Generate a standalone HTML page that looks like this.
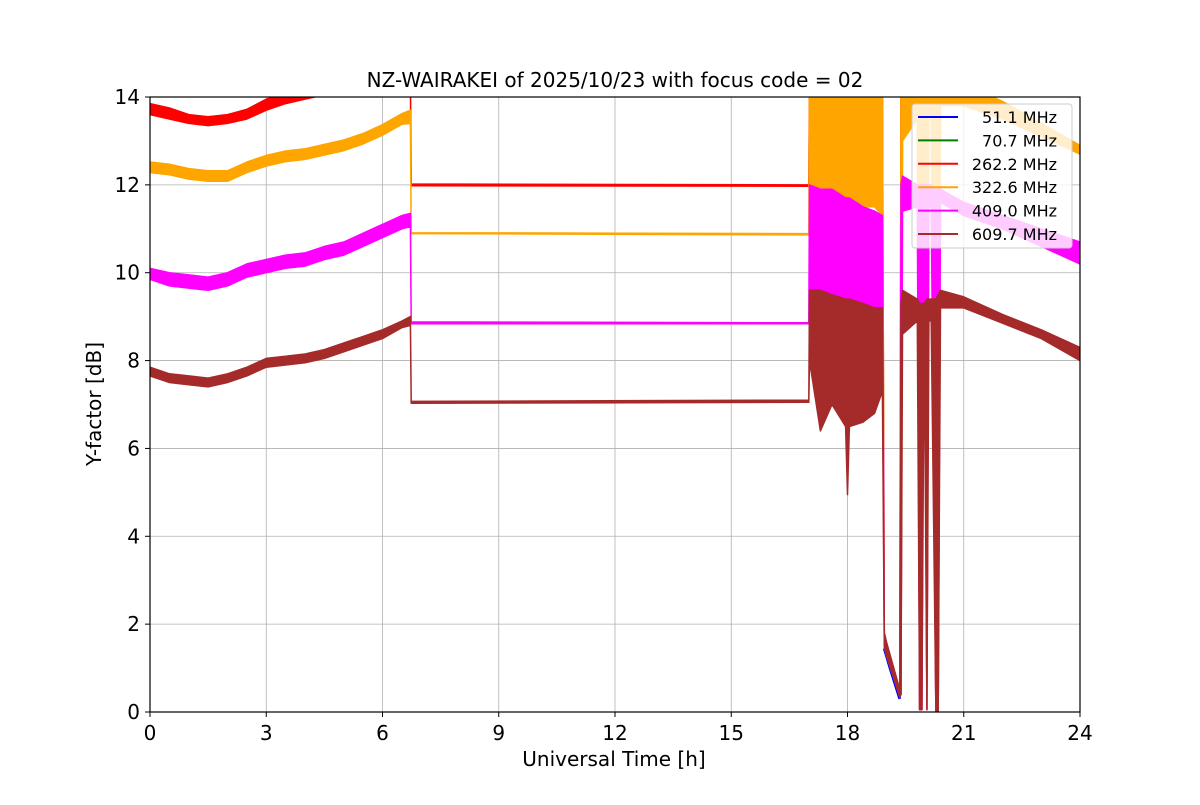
<!DOCTYPE html>
<html><head><meta charset="utf-8"><style>
body{margin:0;background:#fff;font-family:"Liberation Sans","DejaVu Sans",sans-serif}
svg text{font-family:"DejaVu Sans","Liberation Sans",sans-serif}
</style></head><body>
<svg id="chart" width="1200" height="800" xmlns="http://www.w3.org/2000/svg">
<defs><clipPath id="pc"><rect x="150" y="97" width="930" height="615"/></clipPath></defs>
<rect width="1200" height="800" fill="#fff"/>
<g id="grid"></g>
<g id="series" clip-path="url(#pc)"></g>
<rect x="150" y="97" width="930" height="615" fill="none" stroke="#000" stroke-width="1.2"/>
<g id="ticks"></g>
<text x="615" y="87" font-size="20" text-anchor="middle">NZ-WAIRAKEI of 2025/10/23 with focus code = 02</text>
<text x="614" y="766" font-size="20" text-anchor="middle">Universal Time [h]</text>
<text transform="translate(101,404) rotate(-90)" font-size="20" text-anchor="middle">Y-factor [dB]</text>
<g>
<rect x="912" y="104" width="160" height="144" rx="3" fill="#fff" fill-opacity="0.8" stroke="#ccc"/>
<g id="legend"></g>
</g>
</svg>
<script>
const xTicks=[0,3,6,9,12,15,18,21,24];
const yTicks=[0,2,4,6,8,10,12,14];
const T=[0,0.5,1,1.5,2,2.5,3,3.5,4,4.5,5,5.5,6,6.5,6.72,6.74,17.0,17.02,17.3,17.6,17.95,18.0,18.05,18.4,18.7,18.9,18.95,19.0,19.35,19.38,19.42,19.8,19.86,19.92,19.98,20.05,20.1,20.16,20.28,20.34,20.4,21,22,23,24];
const redHi=[13.85,13.75,13.6,13.55,13.6,13.72,13.95,14.1,14.2,14.3,14.4,14.5,14.5,14.5,14.5,12.02,12.0,14.5,14.5,14.5,14.5,14.5,14.5,14.5,14.5,14.5,1.8,1.6,0.5,14.5,14.5,14.5,14.5,14.5,14.5,14.5,14.5,14.5,14.5,14.5,14.5,14.5,14.5,14.5,14.5];
const redLo=[13.6,13.5,13.4,13.35,13.4,13.5,13.7,13.85,13.95,14.05,14.15,14.25,14.3,14.3,14.3,11.98,11.97,13.2,13.3,13.3,13.3,13.3,13.3,13.2,13.2,13.1,1.5,1.3,0.35,0.4,14.1,14.1,0.05,0.05,14.1,0.05,14.1,14.1,0,0,14.1,14.1,14.1,14.1,14.1];
const orangeHi=[12.52,12.47,12.37,12.32,12.32,12.52,12.67,12.77,12.82,12.92,13.02,13.17,13.37,13.62,13.7,10.91,10.89,14.5,14.5,14.5,14.5,14.5,14.5,14.5,14.5,14.5,1.8,1.6,0.5,14.5,14.5,14.5,14.5,14.5,14.5,14.5,14.5,14.5,14.5,14.5,14.5,14.3,13.9,13.4,12.9];
const orangeLo=[12.28,12.23,12.13,12.08,12.08,12.28,12.43,12.53,12.58,12.68,12.78,12.93,13.13,13.38,13.4,10.89,10.86,11.8,11.6,11.8,11.6,11.6,11.6,11.5,11.5,11.3,1.5,1.3,0.35,0.4,13.0,13.5,0.05,0.05,13.6,0.05,13.6,13.6,0,0,13.8,13.8,13.5,13.1,12.7];
const magentaHi=[10.1,10.0,9.95,9.9,10.0,10.2,10.3,10.4,10.45,10.6,10.7,10.9,11.1,11.3,11.35,8.88,8.86,12.0,11.9,11.9,11.7,11.7,11.7,11.5,11.4,11.3,1.8,1.6,0.5,12.0,12.2,12.0,12.0,12.0,12.0,12.0,12.0,12.0,11.9,11.9,11.9,11.6,11.3,11.0,10.7];
const magentaLo=[9.85,9.7,9.65,9.6,9.7,9.9,10.0,10.1,10.15,10.3,10.4,10.6,10.8,11.0,11.05,8.84,8.84,9.2,9.2,9.2,9.1,9.1,9.1,9.0,9.0,9.0,1.5,1.3,0.35,0.4,11.4,11.5,0.05,0.05,11.5,0.05,11.5,11.5,0,0,11.6,11.3,11.0,10.6,10.2];
const brownHi=[7.85,7.7,7.65,7.6,7.7,7.85,8.05,8.1,8.15,8.25,8.4,8.55,8.7,8.9,9.0,7.07,7.1,9.6,9.6,9.5,9.4,9.4,9.4,9.3,9.2,9.2,1.8,1.6,0.5,9.3,9.6,9.4,9.3,9.3,9.3,9.4,9.4,9.4,9.4,9.5,9.6,9.45,9.05,8.7,8.3];
const brownLo=[7.65,7.5,7.45,7.4,7.5,7.65,7.85,7.9,7.95,8.05,8.2,8.35,8.5,8.75,8.8,7.03,7.05,8.0,6.4,7.0,6.5,4.95,6.5,6.6,6.8,7.3,1.5,1.3,0.35,0.4,8.6,8.9,0.05,0.05,8.9,0.05,8.9,8.9,0,0,9.2,9.2,8.85,8.5,8.0];
const blueT=[18.95,19.1,19.35];
const blueV=[1.45,1.0,0.3];
const legendLabels=["  51.1 MHz","  70.7 MHz","262.2 MHz","322.6 MHz","409.0 MHz","609.7 MHz"];
const legendColors=["#0000ff","#008000","#ff0000","#ffa500","#ff00ff","#a52a2a"];

const X=t=>150+t*930/24, Y=v=>712-v*615/14;
const NS="http://www.w3.org/2000/svg";
function mk(tag,attrs,parent){const e=document.createElementNS(NS,tag);for(const k in attrs)e.setAttribute(k,attrs[k]);parent.appendChild(e);return e;}
const grid=document.getElementById('grid'),ticks=document.getElementById('ticks'),ser=document.getElementById('series'),leg=document.getElementById('legend');
xTicks.forEach(t=>{
 const l=mk('line',{x1:X(t),x2:X(t),y1:97,y2:712,stroke:'#b0b0b0','stroke-width':0.8},grid);
 
 
 mk('line',{x1:X(t),x2:X(t),y1:712,y2:717,stroke:'#000'},ticks);
 const tx=mk('text',{x:X(t),y:740,'font-size':20,'text-anchor':'middle'},ticks);tx.textContent=t;
 
 
});
yTicks.forEach(v=>{
 const l=mk('line',{x1:150,x2:1080,y1:Y(v),y2:Y(v),stroke:'#b0b0b0','stroke-width':0.8},grid);
 
 
 mk('line',{x1:145,x2:150,y1:Y(v),y2:Y(v),stroke:'#000'},ticks);
 const tx=mk('text',{x:140,y:Y(v)+7,'font-size':20,'text-anchor':'end'},ticks);tx.textContent=v;
 
 
});
function band(lo,hi,color,name){
 let d='M'+T.map((t,i)=>X(t).toFixed(1)+','+Y(hi[i]).toFixed(1)).join('L');
 for(let i=T.length-1;i>=0;i--)d+='L'+X(T[i]).toFixed(1)+','+Y(lo[i]).toFixed(1);
 const p=mk('path',{d:d+'Z',fill:color,stroke:color,'stroke-width':1.5,'stroke-linejoin':'round'},ser);
 
 
}
const bl=mk('polyline',{points:blueT.map((t,i)=>X(t)+','+Y(blueV[i])).join(' '),fill:'none',stroke:'#0000ff','stroke-width':3},ser);


band(redLo,redHi,'#ff0000','series-262-2-mhz');
band(orangeLo,orangeHi,'#ffa500','series-322-6-mhz');
band(magentaLo,magentaHi,'#ff00ff','series-409-0-mhz');
band(brownLo,brownHi,'#a52a2a','series-609-7-mhz');
legendLabels.forEach((lab,i)=>{
 const y=117+i*23.4;
 const g=mk('g',{},leg);
 
 
 mk('line',{x1:918,x2:958,y1:y,y2:y,stroke:legendColors[i],'stroke-width':2},g);
 const tx=mk('text',{x:1057,y:y+6,'font-size':16,'text-anchor':'end'},g);tx.textContent=lab.trim();
});
</script>
</body></html>
